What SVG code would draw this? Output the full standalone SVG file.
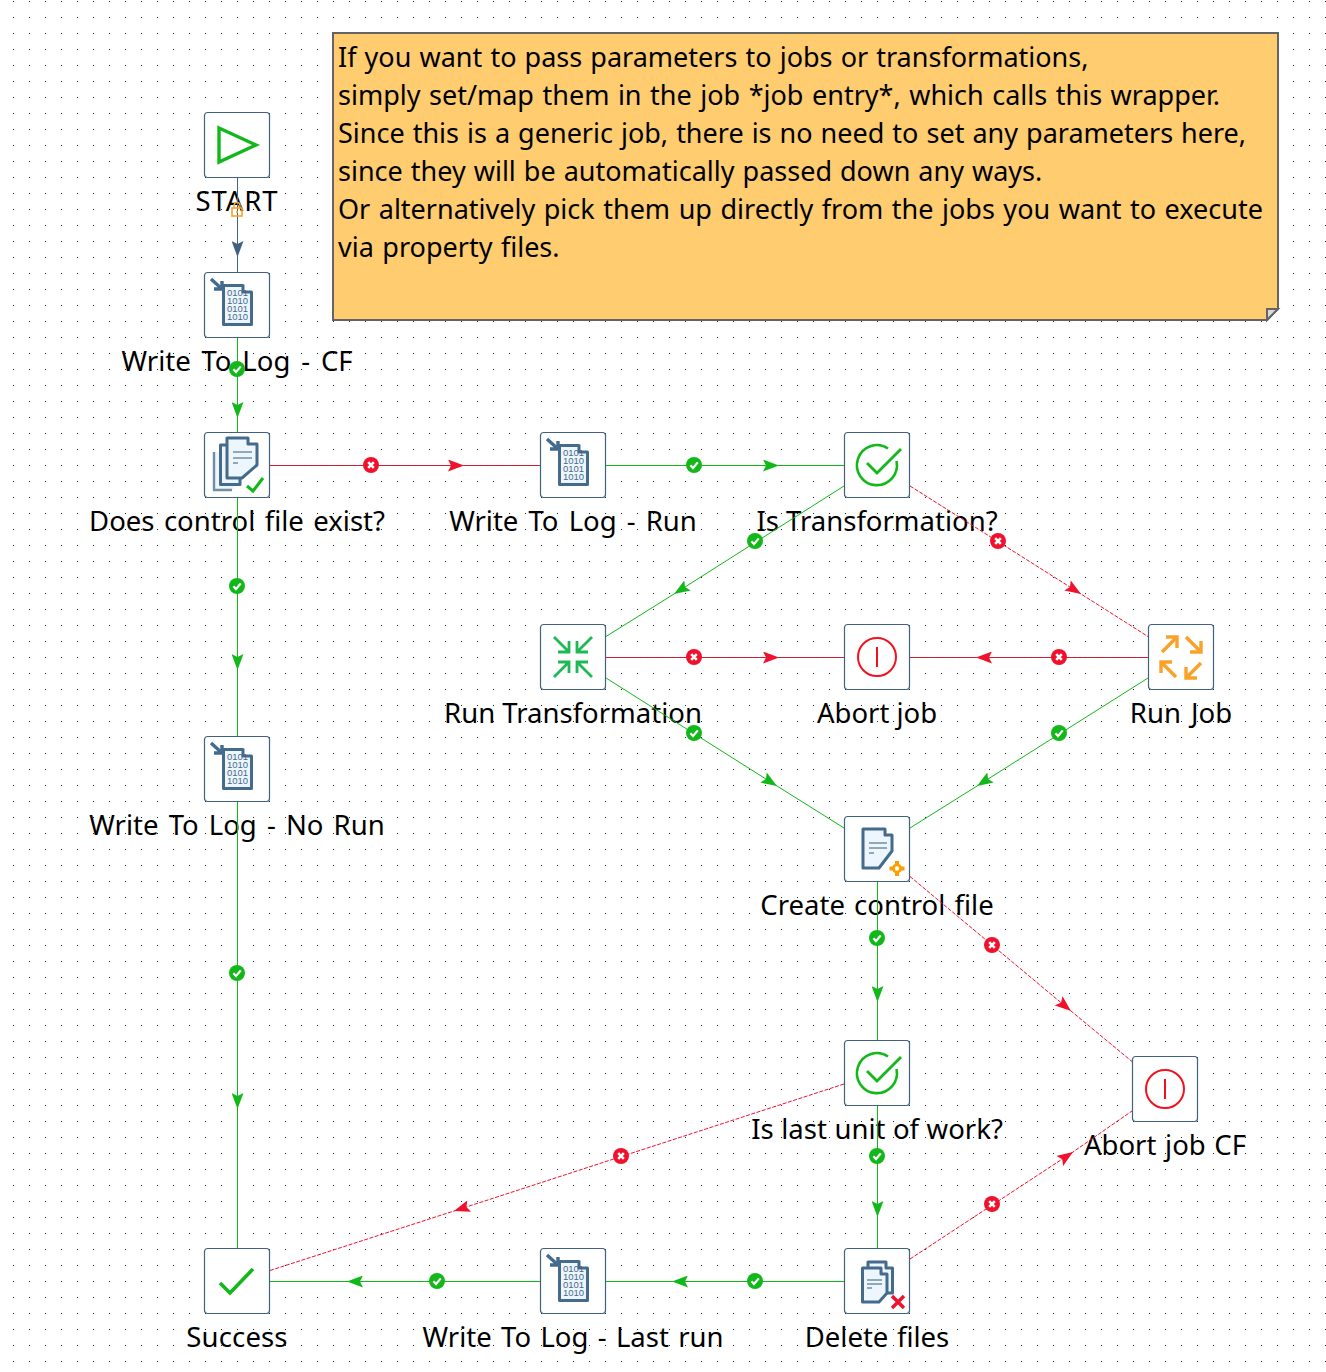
<svg xmlns="http://www.w3.org/2000/svg" width="1326" height="1372" viewBox="0 0 1326 1372">
<style>
text{font-family:"Noto Sans","Open Sans",sans-serif;fill:#000}
.lbl{font-size:27.5px;text-anchor:middle}
.note{font-size:27px}
.bin{font-family:"Liberation Sans",sans-serif;font-size:9.5px;text-anchor:middle;fill:#456b8c}
.box{fill:#fff;stroke:#3f6282;stroke-width:1.2}
.c{fill:none;stroke-width:1}
.g{stroke:#12b81a;marker-mid:url(#ag)}
.r{stroke:#f0112d;stroke-dasharray:4 1.5;marker-mid:url(#ar)}
.b{stroke:#3f6282;marker-mid:url(#ab)}
.u{fill:none;stroke:#555;stroke-width:1}
.doc{fill:#eef6fd;stroke:#456b8c;stroke-width:3;stroke-linejoin:round}
.ln{fill:none;stroke:#6f8fa8;stroke-width:1.6}
.gs{fill:none;stroke:#12b81a}
</style>
<defs>
<pattern id="dots" width="16" height="16" patternUnits="userSpaceOnUse" x="13" y="1"><rect width="1" height="1" fill="#222"/></pattern>
<marker id="ag" viewBox="0 0 16 12" refX="16" refY="6" markerWidth="16" markerHeight="12" markerUnits="userSpaceOnUse" orient="auto"><path d="M0 0L16 6L0 12L3 6Z" fill="#12b81a"/></marker>
<marker id="ar" viewBox="0 0 16 12" refX="16" refY="6" markerWidth="16" markerHeight="12" markerUnits="userSpaceOnUse" orient="auto"><path d="M0 0L16 6L0 12L3 6Z" fill="#f0112d"/></marker>
<marker id="ab" viewBox="0 0 16 12" refX="16" refY="6" markerWidth="16" markerHeight="12" markerUnits="userSpaceOnUse" orient="auto"><path d="M0 0L16 6L0 12L3 6Z" fill="#3f6282"/></marker>
<g id="ok"><circle r="8" fill="#12b81a"/><path d="M-3.6 0.3L-1 3L3.8 -2.6" fill="none" stroke="#fff" stroke-width="2.2"/></g>
<g id="no"><circle r="8" fill="#f0112d"/><path d="M-2.8 -2.8L2.8 2.8M2.8 -2.8L-2.8 2.8" fill="none" stroke="#fff" stroke-width="2.6"/></g>
<g id="logicon"><path class="doc" d="M19.500 13.500H39V20H47.500V52.500H19.500Z"/><text class="bin" x="33.500" y="23.500">0101</text><text class="bin" x="33.500" y="31.800">1010</text><text class="bin" x="33.500" y="40">0101</text><text class="bin" x="33.500" y="48.300">1010</text><path d="M7 7L18 17M10 17H18V9" fill="none" stroke="#456b8c" stroke-width="3.4"/></g>
<g id="abort"><circle cx="33" cy="33" r="19" fill="#fff" stroke="#f0141e" stroke-width="2"/><path d="M33 23V43" stroke="#f0141e" stroke-width="2"/></g>
<g id="cond"><path d="M44 16.500A20 20 0 1 0 52.500 29" fill="none" stroke="#12b81a" stroke-width="2.6"/><path d="M23 31L33 41L57 17" fill="none" stroke="#12b81a" stroke-width="2.8"/></g>
</defs>
<rect width="1326" height="1372" fill="#fff"/>
<rect width="1326" height="1372" fill="url(#dots)"/>

<g id="note">
<path d="M333 33H1278V308.500L1267 320H333Z" fill="#ffcc70" stroke="#646464" stroke-width="2"/>
<path d="M1267 320V309H1278Z" fill="#d9d9d9" stroke="#646464" stroke-width="2"/>
<text class="note" x="338" y="67" word-spacing="1.100">If you want to pass parameters to jobs or transformations,</text>
<text class="note" x="338" y="105" word-spacing="1.500">simply set/map them in the job *job entry*, which calls this wrapper.</text>
<text class="note" x="338" y="143" word-spacing="1">Since this is a generic job, there is no need to set any parameters here,</text>
<text class="note" x="338" y="181" word-spacing="1">since they will be automatically passed down any ways.</text>
<text class="note" x="338" y="219" word-spacing="1.500">Or alternatively pick them up directly from the jobs you want to execute</text>
<text class="note" x="338" y="257" word-spacing="1.500">via property files.</text>
</g>

<g id="n-start" transform="translate(204,112)"><rect class="box" x="0.5" y="0.5" width="65" height="65" rx="3"/><path d="M15 16L52 33L15 50Z" fill="none" stroke="#12b81a" stroke-width="3.4"/><text class="lbl" x="33" y="99" letter-spacing="0.900">START</text></g>
<g id="n-log-cf" transform="translate(204,272)"><rect class="box" x="0.5" y="0.5" width="65" height="65" rx="3"/><use href="#logicon"/><text class="lbl" x="33" y="99" word-spacing="3.700">Write To Log - CF</text></g>
<g id="n-exist" transform="translate(204,432)"><rect class="box" x="0.5" y="0.5" width="65" height="65" rx="3"/>
<path d="M10 20H30V58H10Z" fill="#eef6fd"/><path d="M10 20V58H28" fill="none" stroke="#6f8fa8" stroke-width="2.4"/>
<path class="doc" d="M16.500 13H36V52.500H16.500Z"/><path class="doc" d="M23 6H44V12H53V33L38 46H23Z"/><path class="ln" d="M29 20H48M29 26H48M29 31H34"/><path class="gs" d="M43 54L49 59L59 46" stroke-width="3"/><text class="lbl" x="33" y="99" word-spacing="2.300">Does control file exist?</text></g>
<g id="n-log-run" transform="translate(540,432)"><rect class="box" x="0.5" y="0.5" width="65" height="65" rx="3"/><use href="#logicon"/><text class="lbl" x="33" y="99" word-spacing="3">Write To Log - Run</text></g>
<g id="n-istrans" transform="translate(844,432)"><rect class="box" x="0.5" y="0.5" width="65" height="65" rx="3"/><use href="#cond"/><text class="lbl" x="33" y="99">Is Transformation?</text></g>
<g id="n-runtrans" transform="translate(540,624)"><rect class="box" x="0.5" y="0.5" width="65" height="65" rx="3"/><path d="M14 13L29 28M29 17V28H18M52 13L37 28M37 17V28H48M14 53L29 38M29 49V38H18M52 53L37 38M37 49V38H48" fill="none" stroke="#1db954" stroke-width="2.8"/><text class="lbl" x="33" y="99">Run Transformation</text></g>
<g id="n-abort" transform="translate(844,624)"><rect class="box" x="0.5" y="0.5" width="65" height="65" rx="3"/><use href="#abort"/><text class="lbl" x="33" y="99">Abort job</text></g>
<g id="n-runjob" transform="translate(1148,624)"><rect class="box" x="0.5" y="0.5" width="65" height="65" rx="3"/><path d="M14 28L29 13M18 13H29V24M38 13L53 28M42 28H53V17M28 53L13 38M13 49V38H24M53 39L38 54M38 43V54H49" fill="none" stroke="#f9a227" stroke-width="3.4"/><text class="lbl" x="33" y="99" word-spacing="3">Run Job</text></g>
<g id="n-log-norun" transform="translate(204,736)"><rect class="box" x="0.5" y="0.5" width="65" height="65" rx="3"/><use href="#logicon"/><text class="lbl" x="33" y="99" word-spacing="3">Write To Log - No Run</text></g>
<g id="n-create" transform="translate(844,816)"><rect class="box" x="0.5" y="0.5" width="65" height="65" rx="3"/><path class="doc" d="M19 13H41V19H48V35L35 52H19Z"/><path class="ln" d="M25 27H43M25 32H43M25 37H30"/><path d="M53 45V60M45.500 52.500H60.500" stroke="#f9a000" stroke-width="4" fill="none"/><circle cx="53" cy="52.500" r="3.600" fill="#fff" stroke="#f9a000" stroke-width="2.800"/><text class="lbl" x="33" y="99" word-spacing="2">Create control file</text></g>
<g id="n-islast" transform="translate(844,1040)"><rect class="box" x="0.5" y="0.5" width="65" height="65" rx="3"/><use href="#cond"/><text class="lbl" x="33" y="99" word-spacing="0.400">Is last unit of work?</text></g>
<g id="n-abortcf" transform="translate(1132,1056)"><rect class="box" x="0.5" y="0.5" width="65" height="65" rx="3"/><use href="#abort"/><text class="lbl" x="33" y="99" word-spacing="1.500">Abort job CF</text></g>
<g id="n-success" transform="translate(204,1248)"><rect class="box" x="0.5" y="0.5" width="65" height="65" rx="3"/><path d="M16 35L26 45L49 21" fill="none" stroke="#12b81a" stroke-width="3.6"/><text class="lbl" x="33" y="99" letter-spacing="0.150">Success</text></g>
<g id="n-log-last" transform="translate(540,1248)"><rect class="box" x="0.5" y="0.5" width="65" height="65" rx="3"/><use href="#logicon"/><text class="lbl" x="33" y="99" word-spacing="2.200">Write To Log - Last run</text></g>
<g id="n-delete" transform="translate(844,1248)"><rect class="box" x="0.5" y="0.5" width="65" height="65" rx="3"/><path class="doc" d="M24 14H42V20H48.500V45H24Z"/><path class="doc" d="M18.500 20H37V26H43V45L35 54H18.500Z"/><path class="ln" d="M23 32H38M23 36H38M23 40H28"/><path d="M48 48L60 60M60 48L48 60" stroke="#f0112d" stroke-width="3.4" fill="none"/><text class="lbl" x="33" y="99" word-spacing="1.400">Delete files</text></g>

<g id="connectors">
<polyline class="c b" points="237.500,178 237.500,257 237.500,272"/>
<polyline class="c g" points="237.500,338 237.500,418 237.500,432"/>
<polyline class="u" points="270,465.500 540,465.500"/><polyline class="c r" points="270,465.500 464,465.500 540,465.500"/>
<polyline class="c g" points="606,465.500 779,465.500 844,465.500"/>
<polyline class="c g" points="844,486 674,594 606,636.500"/>
<polyline class="c r" points="910,486 1081,594 1148,636.500"/>
<polyline class="u" points="606,657.500 844,657.500"/><polyline class="c r" points="606,657.500 779,657.500 844,657.500"/>
<polyline class="u" points="910,657.500 1148,657.500"/><polyline class="c r" points="1148,657.500 976,657.500 910,657.500"/>
<polyline class="c g" points="606,678 777,786 844,828"/>
<polyline class="c g" points="1148,678 977,786 910,828"/>
<polyline class="c g" points="237.500,498 237.500,670 237.500,736"/>
<polyline class="c g" points="237.500,802 237.500,1109 237.500,1248"/>
<polyline class="c g" points="877.500,882 877.500,1002 877.500,1040"/>
<polyline class="c r" points="910,876.500 1071,1011 1132,1061.500"/>
<polyline class="c g" points="877.500,1106 877.500,1217 877.500,1248"/>
<polyline class="c r" points="844,1084 454,1211 270,1270.500"/>
<polyline class="c r" points="910,1259 1073,1152 1132,1111"/>
<polyline class="c g" points="844,1281.500 672,1281.500 606,1281.500"/>
<polyline class="c g" points="540,1281.500 347,1281.500 270,1281.500"/>
<rect x="232" y="208" width="10" height="8" fill="none" stroke="#f9a227" stroke-width="1.6"/>
<path d="M234 208V205.500A3 3 0 0 1 240 205.500V208" fill="none" stroke="#f9a227" stroke-width="1.4"/>
<rect x="236" y="211" width="2" height="2" fill="#f9a227"/>
<use href="#ok" x="237" y="369"/>
<use href="#no" x="371" y="465"/>
<use href="#ok" x="694" y="465"/>
<use href="#ok" x="755" y="541"/>
<use href="#no" x="998" y="541"/>
<use href="#no" x="694" y="657"/>
<use href="#no" x="1059" y="657"/>
<use href="#ok" x="694" y="733"/>
<use href="#ok" x="1059" y="733"/>
<use href="#ok" x="237" y="586"/>
<use href="#ok" x="237" y="973"/>
<use href="#ok" x="877" y="938"/>
<use href="#no" x="992" y="945"/>
<use href="#ok" x="877" y="1156"/>
<use href="#no" x="621" y="1156"/>
<use href="#no" x="992" y="1204"/>
<use href="#ok" x="755" y="1281"/>
<use href="#ok" x="437" y="1281"/>
</g>
</svg>
